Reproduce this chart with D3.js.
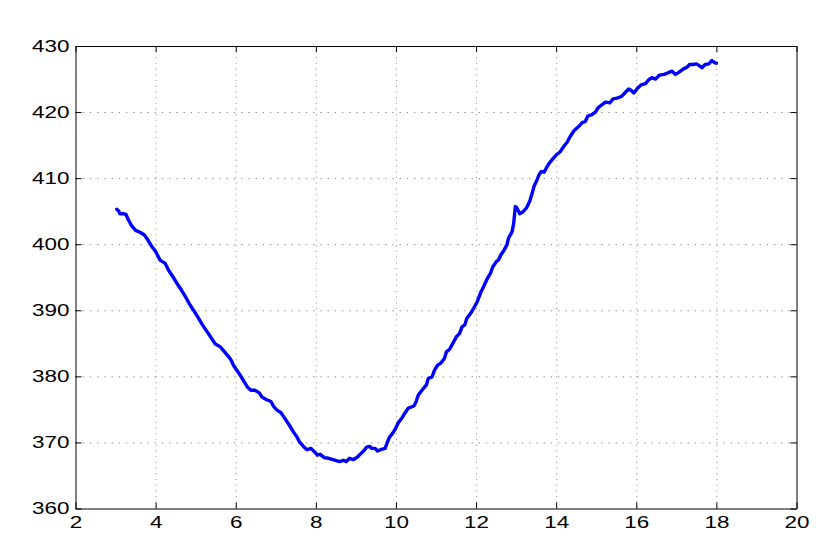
<!DOCTYPE html>
<html>
<head>
<meta charset="utf-8">
<script src="https://cdn.jsdelivr.net/npm/d3@7"></script>
<style>
  html, body { margin: 0; padding: 0; background: #fff; }
  svg { display: block; }
  text { font-family: "Liberation Sans", Arial, sans-serif; }
</style>
</head>
<body>
<svg id="chart" width="830" height="553"></svg>
<script>
// ---- data ----
const xTicks = [2, 4, 6, 8, 10, 12, 14, 16, 18, 20];
const yTicks = [360, 370, 380, 390, 400, 410, 420, 430];

const xValues = [
  3.03, 3.08, 3.11, 3.20, 3.26, 3.32, 3.40, 3.50, 3.61, 3.72, 3.80, 3.90, 4.00, 4.11, 4.24, 4.32,
  4.44, 4.53, 4.64, 4.74, 4.86, 4.97, 5.07, 5.17, 5.28, 5.39, 5.49, 5.61, 5.72, 5.82, 5.88, 5.95,
  6.03, 6.11, 6.19, 6.29, 6.38, 6.48, 6.59, 6.65, 6.76, 6.88, 6.94, 7.03, 7.13, 7.23, 7.34, 7.44,
  7.53, 7.59, 7.69, 7.78, 7.88, 7.96, 8.04, 8.11, 8.21, 8.32, 8.43, 8.53, 8.59, 8.69, 8.76, 8.84,
  8.94, 9.04, 9.12, 9.21, 9.27, 9.34, 9.40, 9.48, 9.54, 9.62, 9.73, 9.79, 9.84, 9.92, 9.99, 10.06,
  10.15, 10.23, 10.31, 10.40, 10.46, 10.51, 10.56, 10.65, 10.76, 10.81, 10.90, 10.96, 11.04, 11.12,
  11.21, 11.26, 11.34, 11.42, 11.51, 11.59, 11.65, 11.72, 11.77, 11.86, 11.94, 12.03, 12.11, 12.19,
  12.28, 12.36, 12.42, 12.51, 12.56, 12.62, 12.70, 12.77, 12.81, 12.90, 12.94, 12.98, 13.02, 13.09,
  13.17, 13.26, 13.34, 13.40, 13.45, 13.52, 13.58, 13.63, 13.70, 13.76, 13.82, 13.90, 14.00, 14.10,
  14.19, 14.27, 14.35, 14.45, 14.56, 14.65, 14.73, 14.79, 14.89, 14.98, 15.04, 15.14, 15.23, 15.34,
  15.42, 15.52, 15.64, 15.73, 15.81, 15.87, 15.94, 16.03, 16.12, 16.23, 16.31, 16.39, 16.48, 16.58,
  16.70, 16.81, 16.89, 16.98, 17.06, 17.17, 17.27, 17.33, 17.42, 17.50, 17.58, 17.64, 17.72, 17.81,
  17.89, 17.95, 18.00
];
const yValues = [
  405.3, 405.0, 404.6, 404.6, 404.5, 403.7, 402.8, 402.1, 401.8, 401.4, 400.7, 399.7, 398.9, 397.6, 397.1, 396.1,
  395.0, 394.1, 393.1, 392.1, 390.8, 389.8, 388.8, 387.8, 386.8, 385.8, 384.9, 384.5, 383.7, 383.0, 382.5, 381.6,
  380.9, 380.2, 379.4, 378.4, 377.9, 377.9, 377.5, 376.9, 376.5, 376.2, 375.5, 374.9, 374.5, 373.6, 372.6, 371.6,
  370.8, 370.1, 369.4, 368.9, 369.1, 368.6, 368.1, 368.2, 367.7, 367.6, 367.4, 367.2, 367.1, 367.3, 367.1, 367.6,
  367.4, 367.8, 368.3, 368.8, 369.3, 369.4, 369.1, 369.1, 368.7, 368.9, 369.1, 370.1, 370.8, 371.4, 372.1, 373.0,
  373.7, 374.5, 375.2, 375.4, 375.6, 376.3, 377.2, 377.9, 378.7, 379.7, 379.9, 380.9, 381.7, 382.0,
  382.7, 383.7, 384.1, 385.0, 386.0, 386.5, 387.5, 387.8, 388.8, 389.5, 390.3, 391.3, 392.6, 393.6,
  394.8, 395.6, 396.6, 397.4, 397.6, 398.4, 399.1, 399.9, 400.9, 401.9, 403.2, 405.7, 405.5, 404.6,
  404.9, 405.5, 406.5, 407.7, 408.8, 409.7, 410.6, 411.0, 410.9, 411.6, 412.2, 412.8, 413.5, 414.0,
  414.8, 415.4, 416.3, 417.2, 417.8, 418.4, 418.6, 419.4, 419.6, 420.0, 420.6, 421.1, 421.5, 421.4,
  422.0, 422.1, 422.4, 423.0, 423.5, 423.3, 422.9, 423.6, 424.1, 424.3, 424.9, 425.2, 425.0, 425.6,
  425.7, 426.0, 426.2, 425.7, 426.0, 426.5, 426.8, 427.2, 427.2, 427.3, 427.0, 426.7, 427.2, 427.3,
  427.8, 427.5, 427.4
];

// ---- layout ----
const svg = d3.select("#chart");
svg.append("rect").attr("width", 830).attr("height", 553).attr("fill", "#fff");

const L = 75.5, R = 796.5, T = 46, B = 508.5;
const x = d3.scaleLinear().domain([2, 20]).range([L, R]);
const y = d3.scaleLinear().domain([360, 430]).range([B, T]);
const SX = 1.32;
const FS = 17;

// grid
const grid = svg.append("g");
grid.append("g").attr("transform", `translate(0,${B})`)
  .call(d3.axisBottom(x).tickValues(xTicks.slice(1, -1)).tickSize(-(B - T)).tickFormat(""))
  .call(g => g.select(".domain").remove())
  .call(g => g.selectAll("line").attr("stroke", "#8a8a8a").attr("stroke-width", 1).attr("stroke-dasharray", "1,4.7"));
grid.append("g").attr("transform", `translate(${L},0)`)
  .call(d3.axisLeft(y).tickValues(yTicks.slice(1, -1)).tickSize(-(R - L)).tickFormat(""))
  .call(g => g.select(".domain").remove())
  .call(g => g.selectAll("line").attr("stroke", "#8a8a8a").attr("stroke-width", 1).attr("stroke-dasharray", "1.4,5.8"));

// line
const line = d3.line().x((d, i) => x(xValues[i])).y(d => y(d));
svg.append("path").datum(yValues)
  .attr("d", line)
  .attr("fill", "none")
  .attr("stroke", "#0000ff")
  .attr("stroke-width", 3.4)
  .attr("stroke-linejoin", "round")
  .attr("stroke-linecap", "round");

// axes
function styleAxis(g) {
  g.select(".domain").attr("stroke", "#000").attr("stroke-width", 1);
  g.selectAll(".tick line").attr("stroke", "#000").attr("stroke-width", 1);
}
svg.append("g").attr("transform", `translate(0,${B})`)
  .call(d3.axisBottom(x).tickValues(xTicks).tickSize(-6).tickSizeOuter(0).tickPadding(7).tickFormat(d3.format("d")))
  .call(styleAxis)
  .call(g => g.selectAll("text").attr("font-size", FS).attr("fill", "#000")
    .attr("font-family", "Liberation Sans, Arial, sans-serif")
    .attr("transform", `scale(${SX},1)`));
svg.append("g").attr("transform", `translate(${L},0)`)
  .call(d3.axisLeft(y).tickValues(yTicks).tickSize(-6).tickSizeOuter(0).tickPadding(6 / SX).tickFormat(d3.format("d")))
  .call(styleAxis)
  .call(g => g.selectAll("text").attr("font-size", FS).attr("fill", "#000")
    .attr("font-family", "Liberation Sans, Arial, sans-serif")
    .attr("transform", `scale(${SX},1)`));
svg.append("g").attr("transform", `translate(0,${T})`)
  .call(d3.axisTop(x).tickValues(xTicks).tickSize(-6).tickSizeOuter(0).tickFormat(""))
  .call(styleAxis);
svg.append("g").attr("transform", `translate(${R},0)`)
  .call(d3.axisRight(y).tickValues(yTicks).tickSize(-6).tickSizeOuter(0).tickFormat(""))
  .call(styleAxis);
</script>
</body>
</html>
